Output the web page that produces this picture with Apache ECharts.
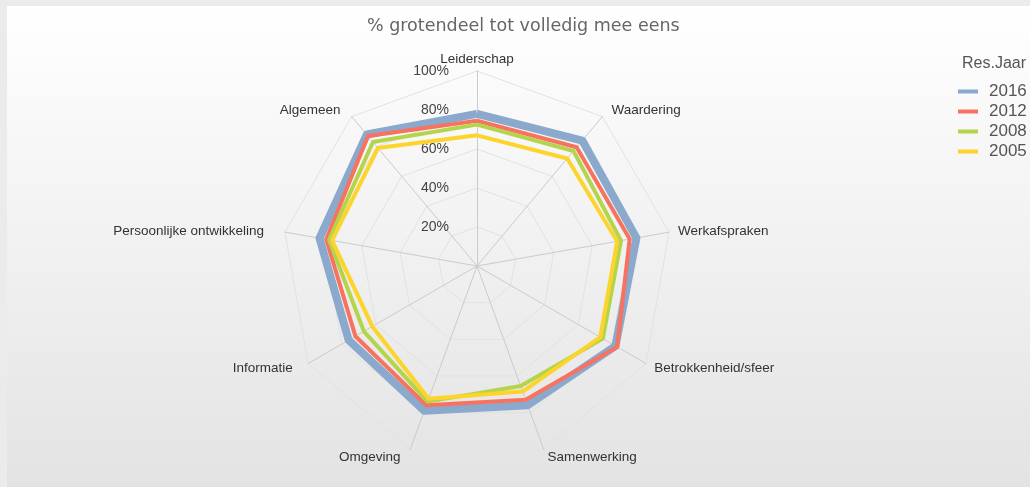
<!DOCTYPE html>
<html>
<head>
<meta charset="utf-8">
<script src="https://cdn.jsdelivr.net/npm/echarts@6/dist/echarts.min.js"></script>
<style>
    html, body {margin: 0; padding: 0; background: #ebecea; overflow: hidden;}
    #main {position: absolute; left: 7px; top: 6px; width: 1023px; height: 481px;}
</style>
</head>
<body>
<div id="main"></div>
<script>
// categories, clockwise from the top
var categories = ['Leiderschap', 'Waardering', 'Werkafspraken', 'Betrokkenheid/sfeer', 'Samenwerking',
    'Omgeving', 'Informatie', 'Persoonlijke ontwikkeling', 'Algemeen'];
var years = ['2016', '2012', '2008', '2005'];
var values2016 = [78, 84, 83, 82, 76, 79, 76, 82, 88];
var values2012 = [74.5, 79.5, 79.5, 83, 73, 76, 72, 78.5, 87];
var values2008 = [72.5, 77, 75, 74.5, 65.5, 74, 67, 77, 83];
var values2005 = [67, 72, 73, 73, 68.5, 72.5, 62, 75.5, 79];
var tickLabels = ['20%', '40%', '60%', '80%', '100%'];

var colors = ['#8aa9cd', '#f7735f', '#b4d44b', '#fdd42c'];
var widths = [8, 4, 4, 4];
var font = 'Liberation Sans, Arial, sans-serif';

// extra space round each axis name (top, right, bottom, left)
var namePad = [
    [0, 0, 0, 0], [0, 0, 5, 6], [0, 0, 0, 4], [4, 0, 0, 4], [7, 0, 0, 2],
    [7, 8, 0, 0], [4, 11, 0, 0], [0, 16, 0, 0], [0, 8, 5, 0]
];

// echarts radar goes counterclockwise, so reorder to keep the picture clockwise
function reorder(arr) {
    var out = [arr[0]];
    for (var i = arr.length - 1; i > 0; i--) out.push(arr[i]);
    return out;
}

var rich = {};
for (var i = 0; i < categories.length; i++) {
    rich['n' + i] = {fontFamily: font, fontSize: 13.5, color: '#333', padding: namePad[i]};
}

var allValues = [values2016, values2012, values2008, values2005];
var series = [];
for (var k = 0; k < years.length; k++) {
    series.push({
        name: years[k],
        type: 'radar',
        radarIndex: 0,
        symbol: 'none',
        silent: true,
        lineStyle: {color: colors[k], width: widths[k]},
        itemStyle: {color: colors[k]},
        data: [{value: reorder(allValues[k]), name: years[k]}]
    });
}

var option = {
    backgroundColor: {
        type: 'linear', x: 0, y: 0, x2: 0, y2: 1,
        colorStops: [{offset: 0, color: '#ffffff'}, {offset: 1, color: '#e3e3e3'}]
    },
    animation: false,
    color: colors,
    title: [{
        text: '% grotendeel tot volledig mee eens',
        left: 355, top: 6,
        textStyle: {fontFamily: 'DejaVu Sans', fontSize: 17.5, fontWeight: 'normal', color: '#666'}
    }, {
        text: 'Res.Jaar',
        left: 950, top: 45,
        textStyle: {fontFamily: font, fontSize: 16, fontWeight: 'normal', color: '#555'}
    }],
    legend: {
        orient: 'vertical',
        left: 946, top: 72,
        itemWidth: 20, itemHeight: 4, itemGap: 3,
        icon: 'rect',
        data: years,
        textStyle: {fontFamily: font, fontSize: 17, color: '#555', padding: [0, 0, 0, 6]}
    },
    radar: [{
        center: [470, 260],
        radius: 195,
        startAngle: 90,
        splitNumber: 5,
        shape: 'polygon',
        indicator: reorder(categories).map(function (c) { return {name: c, max: 100, min: 0}; }),
        axisName: {
            fontFamily: font, fontSize: 13.5, color: '#333',
            formatter: function (name) {
                return '{n' + categories.indexOf(name) + '|' + name + '}';
            },
            rich: rich
        },
        nameGap: 5,
        axisLine: {lineStyle: {color: '#cbcbcb'}},
        splitLine: {lineStyle: {color: '#e2e2e2'}},
        splitArea: {show: false},
        axisLabel: {show: false}
    }, {
        // only used for the % labels along the top spoke
        center: [470, 260],
        radius: 195,
        startAngle: 90,
        splitNumber: 5,
        indicator: [{name: '', max: 100, min: 0}],
        axisLine: {show: false},
        splitLine: {show: false},
        splitArea: {show: false},
        axisName: {show: false},
        axisLabel: {
            show: true, showMinLabel: false, margin: 28,
            fontFamily: font, fontSize: 14, color: '#444',
            formatter: function (v) { return tickLabels[v / 20 - 1] || ''; }
        }
    }],
    series: series
};

var myChart = echarts.init(document.getElementById('main'));
myChart.setOption(option);
</script>
</body>
</html>
